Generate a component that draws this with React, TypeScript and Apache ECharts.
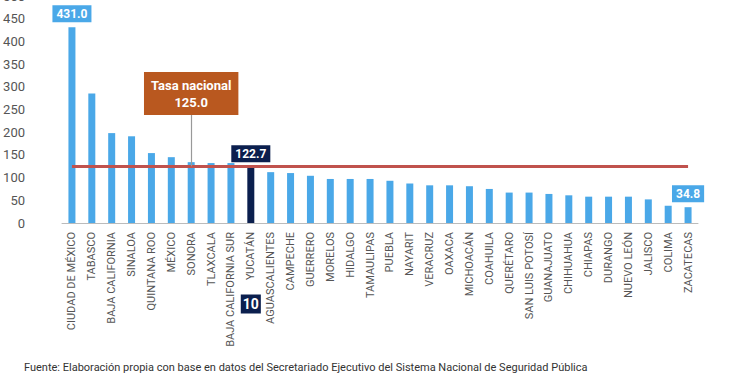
import React, { useEffect, useRef } from "react";
import * as echarts from "echarts";

const states = [
  "CIUDAD DE MÉXICO", "TABASCO", "BAJA CALIFORNIA", "SINALOA", "QUINTANA ROO", "MÉXICO",
  "SONORA", "TLAXCALA", "BAJA CALIFORNIA SUR", "YUCATÁN", "AGUASCALIENTES", "CAMPECHE",
  "GUERRERO", "MORELOS", "HIDALGO", "TAMAULIPAS", "PUEBLA", "NAYARIT", "VERACRUZ", "OAXACA",
  "MICHOACÁN", "COAHUILA", "QUERÉTARO", "SAN LUIS POTOSÍ", "GUANAJUATO", "CHIHUAHUA",
  "CHIAPAS", "DURANGO", "NUEVO LEÓN", "JALISCO", "COLIMA", "ZACATECAS",
];
const rates = [
  431.0, 285, 198, 191, 154, 145, 134, 132, 132, 122.7, 112, 110,
  104, 97, 97, 97, 93, 87, 83, 83, 81, 75, 67, 67, 64, 61, 58, 58, 58, 52, 38, 34.8,
];
const nationalRate = 125.0;
const highlightIndex = 9;
const rankLabel = "10";
const labelledIndices = [0, 9, 31];
const calloutIndex = 6;
const calloutValue = 238;
const yTicks = { min: 0, max: 500, interval: 50 };
const footer =
  "Fuente: Elaboración propia con base en datos del Secretariado Ejecutivo del Sistema Nacional de Seguridad Pública";

export default function App() {
  const ref = useRef<HTMLDivElement>(null);
  useEffect(() => {
    if (!ref.current) return;
    const chart = echarts.init(ref.current, null, { renderer: "svg" });
    const blue = "#4aa8e8";
    const navy = "#0b1f4e";
    const data = rates.map((v, i) => {
      const isHi = i === highlightIndex;
      const color = isHi ? navy : blue;
      const item: any = { value: v, itemStyle: { color } };
      if (labelledIndices.includes(i)) {
        item.label = {
          show: true,
          position: "top",
          distance: 5,
          formatter: (p: any) => Number(p.value).toFixed(1),
          color: "#fff",
          fontWeight: "bold",
          fontSize: 12,
          fontFamily: "Roboto",
          backgroundColor: color,
          padding: [3, 4, 2, 4],
        };
      }
      return item;
    });
    chart.setOption({
      animation: false,
      grid: {
        left: 62,
        right: 52,
        top: -4,
        bottom: 152,
        containLabel: false,
        outerBoundsMode: "none",
      },
      xAxis: {
        type: "category",
        data: states,
        axisLine: { lineStyle: { color: "#bbb", width: 1 } },
        axisTick: { show: false },
        axisLabel: {
          rotate: 90,
          interval: 0,
          color: "#555",
          fontSize: 11,
          fontFamily: "Roboto",
          margin: 9,
        },
      },
      yAxis: {
        type: "value",
        ...yTicks,
        splitLine: { show: false },
        axisLine: { show: false },
        axisTick: { show: false },
        axisLabel: { color: "#555", fontSize: 13, fontFamily: "Roboto", margin: 37 },
      },
      series: [
        {
          type: "bar",
          data,
          barWidth: 7,
          markLine: {
            symbol: "none",
            silent: true,
            label: { show: false },
            data: [
              [
                { coord: [0, nationalRate], lineStyle: { color: "#c0524d", width: 3, type: "solid" } },
                { coord: [states.length - 1, nationalRate] },
              ],
              [
                { coord: [calloutIndex, nationalRate], lineStyle: { color: "#999", width: 1.2, type: "solid" } },
                { coord: [calloutIndex, calloutValue] },
              ],
            ],
          },
          markPoint: {
            symbol: "rect",
            symbolSize: 0,
            silent: true,
            data: [
              {
                coord: [calloutIndex, calloutValue],
                label: {
                  show: true,
                  position: "top",
                  distance: 0,
                  formatter: "Tasa nacional\n" + nationalRate.toFixed(1),
                  color: "#fff",
                  fontWeight: "bold",
                  fontSize: 13,
                  lineHeight: 17,
                  fontFamily: "Roboto",
                  backgroundColor: "#b9581f",
                  padding: [5, 7, 4, 7],
                  align: "center",
                },
              },
            ],
          },
        },
      ],
    });
    const px = chart.convertToPixel({ gridIndex: 0 }, [highlightIndex, 0]) as number[];
    chart.setOption({
      graphic: [
        {
          type: "text",
          x: px[0],
          y: 304,
          style: {
            text: rankLabel,
            fill: "#fff",
            backgroundColor: navy,
            font: "bold 14px Roboto",
            align: "center",
            verticalAlign: "middle",
            padding: [3, 2, 2, 2],
          },
        },
        {
          type: "text",
          x: 24,
          y: 362,
          style: {
            text: footer,
            fill: "#333",
            font: "11px Roboto",
          },
        },
      ],
    });
    return () => chart.dispose();
  }, []);
  return (
    <div
      ref={ref}
      style={{ position: "absolute", left: 0, top: 0, width: 750, height: 375, background: "#fff" }}
    />
  );
}
